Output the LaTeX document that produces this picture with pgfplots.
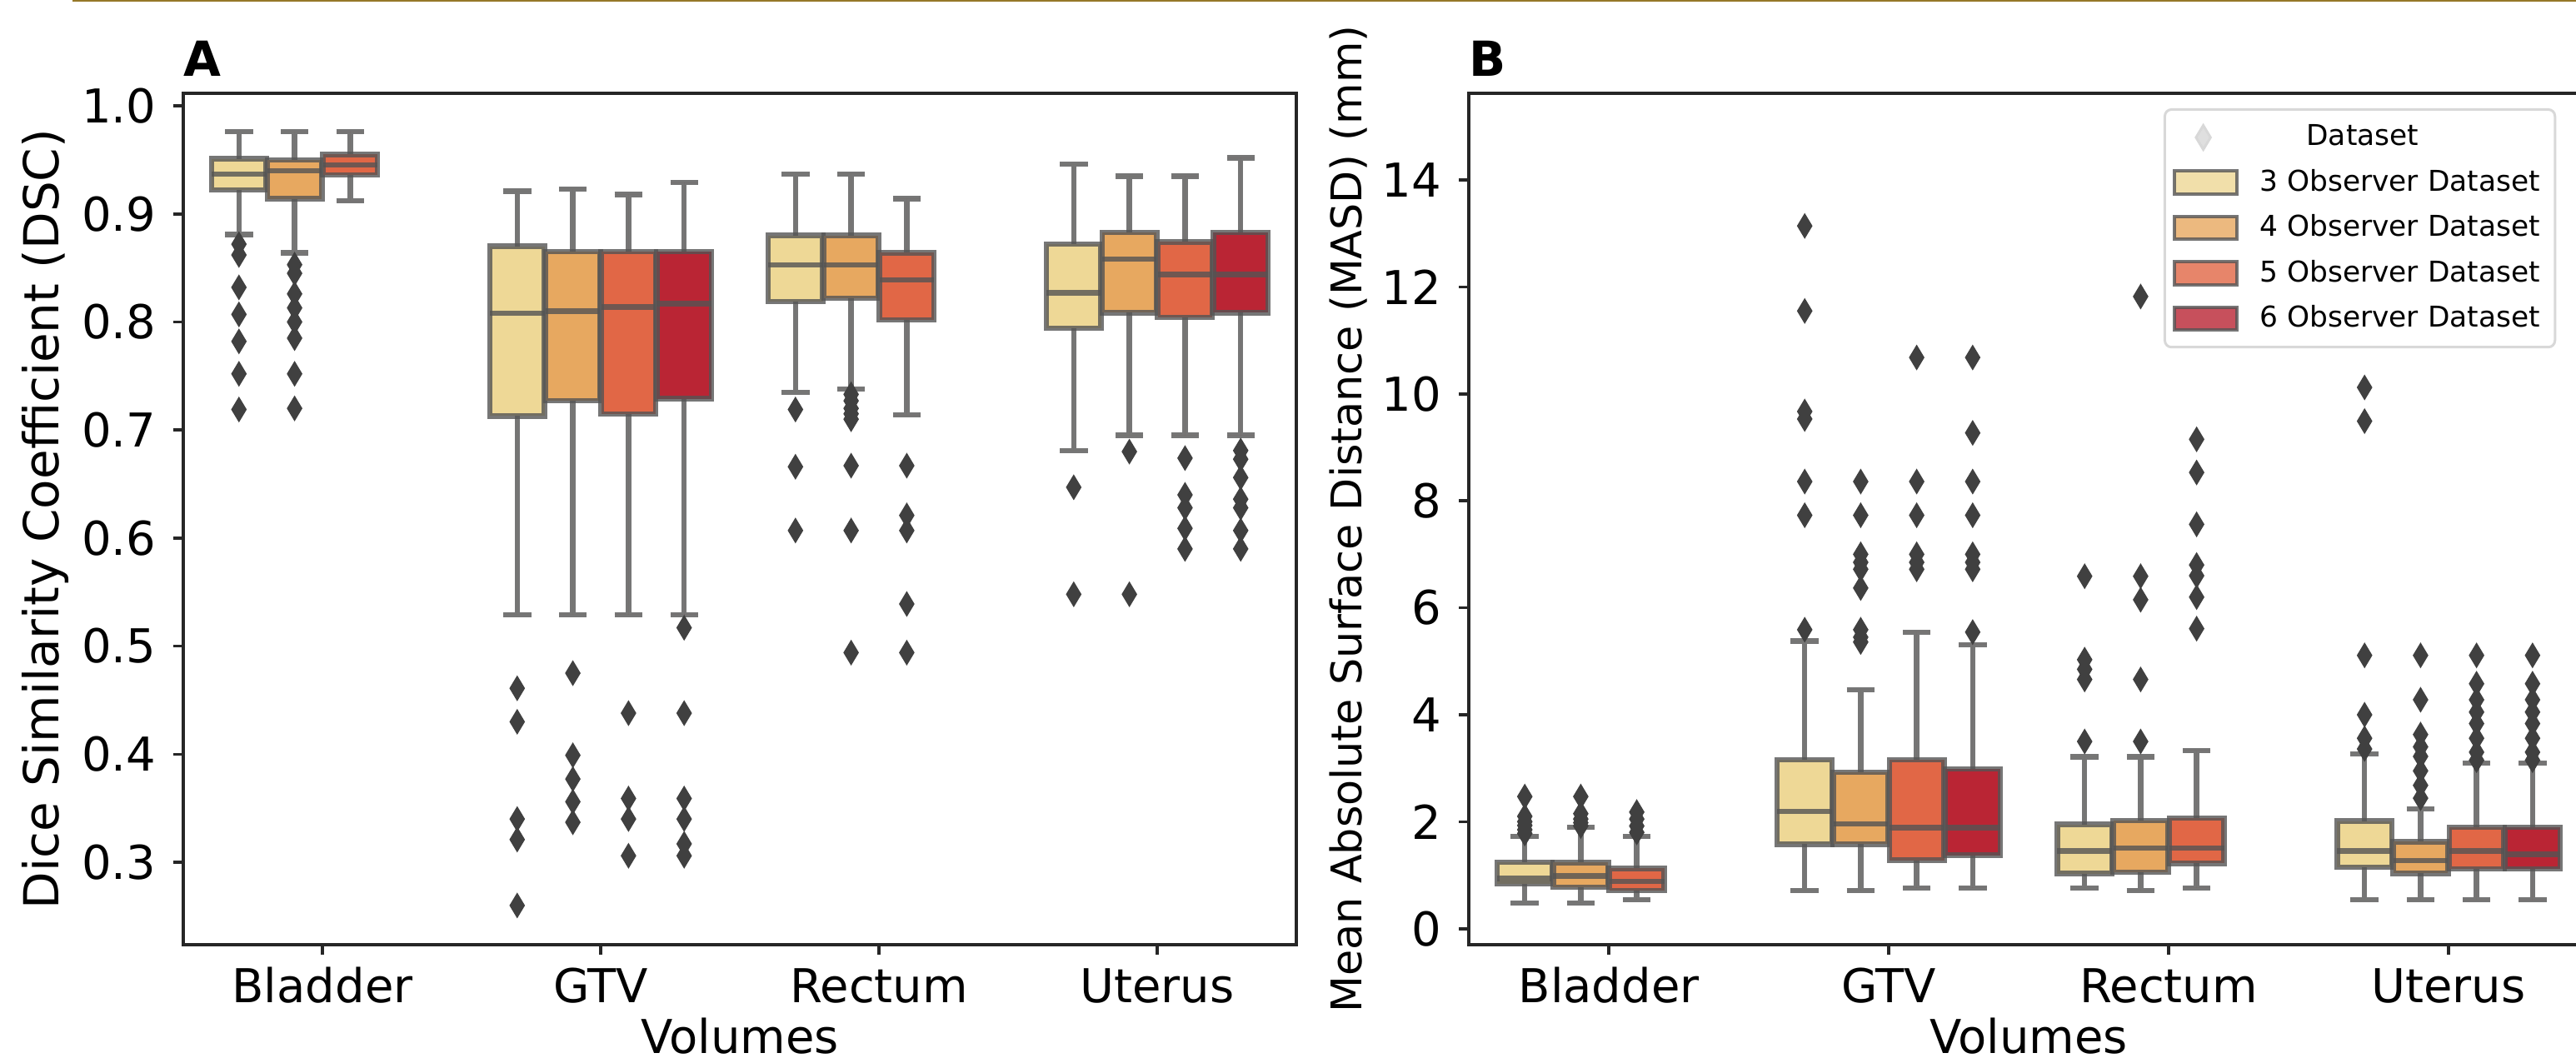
\documentclass[border=0pt]{standalone}
\usepackage{fontspec}
\setmainfont{DejaVu Sans}
\usepackage{pgfplots}
\pgfplotsset{compat=1.18}
\usepgfplotslibrary{statistics}

\definecolor{c3}{RGB}{238,216,150}
\definecolor{c4}{RGB}{231,168,96}
\definecolor{c5}{RGB}{225,103,70}
\definecolor{c6}{RGB}{186,37,52}
\definecolor{lineg}{RGB}{84,84,84}
\definecolor{flier}{RGB}{64,64,64}
\definecolor{spine}{RGB}{38,38,38}
\definecolor{legg}{RGB}{216,216,216}
\definecolor{topline}{RGB}{150,120,40}

\newcommand{\tk}{\fontsize{14}{16}\selectfont}

% one box: position, colour, lower whisker, Q1, median, Q3, upper whisker, outliers
\newcommand{\bx}[8]{%
  \addplot[bxstyle, fill=#2, boxplot prepared={draw position=#1,
    lower whisker=#3, lower quartile=#4, median=#5,
    upper quartile=#6, upper whisker=#7}]
    table[row sep=\\, y index=0] {v\\ #8};
}

\pgfplotsset{
  bxstyle/.style={draw=lineg, draw opacity=0.8, line width=1.6pt, solid,
    mark=diamond*, mark size=3.6pt,
    mark options={fill=flier, draw=flier, draw opacity=1, line width=0.3pt, xscale=0.8},
    boxplot/box extend=0.196, boxplot/whisker extend=0.1, forget plot},
  patchleg/.style={legend image code/.code={%
    \draw[##1, sharp corners] (0pt,-3.4pt) rectangle (18.75pt,3.4pt);
    \path (23pt,0pt);}},
  common/.style={
    anchor=south west, scale only axis,
    boxplot/draw direction=y,
    xmin=-0.5, xmax=3.5,
    xtick={0,1,2,3}, xticklabels={Bladder,GTV,Rectum,Uterus},
    tick pos=left, tick align=outside, major tick length=3pt,
    tick style={draw=spine, line width=0.9pt},
    axis line style={draw=spine, line width=0.9pt},
    tick label style={font=\tk},
    /pgf/number format/assume math mode=true,
    xticklabel style={anchor=base, inner sep=0pt, yshift=-14.25pt},
    yticklabel style={anchor=east, inner sep=0pt, xshift=-5pt},
    xlabel={Volumes},
    every axis x label/.style={at={(axis description cs:0.5,0)}, anchor=base, inner sep=0pt,
      yshift=-32.5pt, font=\tk},
    every axis title/.style={at={(axis description cs:0,1)}, anchor=base west, inner sep=0pt, yshift=5pt,
      font=\bfseries\fontsize{14.5}{17}\selectfont},
  },
}

\begin{document}
\begin{tikzpicture}[x=1pt,y=1pt]
\useasboundingbox (0,0) rectangle (773,318.75);
\draw[topline, line width=0.6pt] (21.75,318.45) -- (773,318.45);

% ---------- A: DSC ----------
\begin{axis}[common, at={(55pt,35.25pt)}, width=334pt, height=255.5pt,
  ymin=0.2237, ymax=1.0116,
  ytick={0.3,0.4,0.5,0.6,0.7,0.8,0.9,1.0},
  yticklabel style={/pgf/number format/.cd, fixed, fixed zerofill, precision=1},
  ylabel={Dice Similarity Coefficient (DSC)},
  every axis y label/.style={at={(axis description cs:0,0.5)}, rotate=90, anchor=base,
    yshift=37.25pt, font=\fontsize{14.5}{17}\selectfont},
  title={A}]
\bx{-0.3}{c3}{0.881}{0.922}{0.937}{0.951}{0.976}{0.872\\ 0.862\\ 0.832\\ 0.807\\ 0.782\\ 0.752\\ 0.719\\}
\bx{-0.1}{c4}{0.864}{0.914}{0.940}{0.950}{0.976}{0.853\\ 0.845\\ 0.826\\ 0.813\\ 0.800\\ 0.785\\ 0.752\\ 0.720\\}
\bx{0.1}{c5}{0.912}{0.936}{0.9455}{0.955}{0.976}{}
\bx{0.7}{c3}{0.529}{0.713}{0.808}{0.870}{0.921}{0.461\\ 0.430\\ 0.340\\ 0.321\\ 0.260\\}
\bx{0.9}{c4}{0.529}{0.727}{0.810}{0.865}{0.923}{0.475\\ 0.399\\ 0.377\\ 0.356\\ 0.337\\}
\bx{1.1}{c5}{0.529}{0.715}{0.814}{0.865}{0.918}{0.438\\ 0.359\\ 0.340\\ 0.306\\}
\bx{1.3}{c6}{0.529}{0.729}{0.817}{0.865}{0.929}{0.517\\ 0.438\\ 0.359\\ 0.340\\ 0.317\\ 0.306\\}
\bx{1.7}{c3}{0.735}{0.819}{0.853}{0.880}{0.937}{0.719\\ 0.666\\ 0.607\\}
\bx{1.9}{c4}{0.738}{0.822}{0.853}{0.880}{0.937}{0.733\\ 0.727\\ 0.720\\ 0.715\\ 0.710\\ 0.667\\ 0.607\\ 0.494\\}
\bx{2.1}{c5}{0.714}{0.802}{0.839}{0.864}{0.914}{0.667\\ 0.621\\ 0.607\\ 0.539\\ 0.494\\}
\bx{2.7}{c3}{0.681}{0.794}{0.827}{0.872}{0.946}{0.647\\ 0.548\\}
\bx{2.9}{c4}{0.695}{0.8085}{0.858}{0.883}{0.935}{0.680\\ 0.548\\}
\bx{3.1}{c5}{0.695}{0.804}{0.844}{0.874}{0.935}{0.674\\ 0.640\\ 0.628\\ 0.609\\ 0.590\\}
\bx{3.3}{c6}{0.695}{0.8085}{0.844}{0.883}{0.952}{0.681\\ 0.673\\ 0.656\\ 0.636\\ 0.628\\ 0.607\\ 0.590\\}
\end{axis}

% ---------- B: MASD ----------
\begin{axis}[common, at={(440.75pt,35.25pt)}, width=336pt, height=255.5pt,
  ymin=-0.3, ymax=15.62,
  ytick={0,2,4,6,8,10,12,14},
  ylabel={Mean Absolute Surface Distance (MASD) (mm)},
  every axis y label/.style={at={(axis description cs:0,0.5)}, rotate=90, anchor=base,
    yshift=32.25pt, font=\fontsize{12.7}{15}\selectfont},
  title={B},
  legend style={at={(0.6205,0.9824)}, anchor=north west, draw=legg, line width=0.75pt,
    rounded corners=2pt, fill=white, fill opacity=0.8, text opacity=1,
    font=\fontsize{8.6}{10}\selectfont, row sep=1.6pt, inner sep=2.5pt,
    cells={anchor=west}}]
\bx{-0.3}{c3}{0.483}{0.84}{0.94}{1.24}{1.724}{2.47\\ 2.10\\ 2.00\\ 1.93\\ 1.85\\ 1.78\\}
\bx{-0.1}{c4}{0.483}{0.779}{0.986}{1.235}{1.895}{2.47\\ 2.15\\ 2.05\\ 1.98\\ 1.92\\}
\bx{0.1}{c5}{0.545}{0.716}{0.883}{1.126}{1.724}{2.18\\ 2.05\\ 1.92\\ 1.80\\}
\bx{0.7}{c3}{0.716}{1.579}{2.188}{3.154}{5.377}{13.14\\ 11.55\\ 9.67\\ 9.53\\ 8.36\\ 7.73\\ 5.59\\}
\bx{0.9}{c4}{0.716}{1.579}{1.955}{2.92}{4.467}{8.36\\ 7.73\\ 7.00\\ 6.85\\ 6.72\\ 6.37\\ 5.59\\ 5.45\\ 5.36\\}
\bx{1.1}{c5}{0.763}{1.279}{1.89}{3.154}{5.545}{10.68\\ 8.36\\ 7.73\\ 7.00\\ 6.85\\ 6.72\\}
\bx{1.3}{c6}{0.763}{1.372}{1.89}{2.986}{5.31}{10.68\\ 9.27\\ 8.36\\ 7.73\\ 7.00\\ 6.85\\ 6.72\\ 5.545\\}
\bx{1.7}{c3}{0.763}{1.03}{1.452}{1.949}{3.21}{6.59\\ 5.03\\ 4.85\\ 4.66\\ 3.50\\}
\bx{1.9}{c4}{0.716}{1.055}{1.51}{2.023}{3.21}{11.82\\ 6.59\\ 6.15\\ 4.66\\ 3.50\\}
\bx{2.1}{c5}{0.763}{1.22}{1.51}{2.065}{3.33}{9.15\\ 8.53\\ 7.56\\ 6.80\\ 6.60\\ 6.20\\ 5.61\\}
\bx{2.7}{c3}{0.537}{1.15}{1.455}{2.012}{3.27}{10.12\\ 9.49\\ 5.11\\ 4.00\\ 3.56\\ 3.36\\}
\bx{2.9}{c4}{0.537}{1.034}{1.273}{1.626}{2.237}{5.11\\ 4.28\\ 3.63\\ 3.40\\ 3.22\\ 2.95\\ 2.68\\ 2.44\\}
\bx{3.1}{c5}{0.537}{1.115}{1.455}{1.897}{3.10}{5.11\\ 4.58\\ 4.28\\ 4.05\\ 3.835\\ 3.56\\ 3.30\\ 3.15\\}
\bx{3.3}{c6}{0.537}{1.115}{1.388}{1.897}{3.10}{5.11\\ 4.58\\ 4.28\\ 4.05\\ 3.835\\ 3.56\\ 3.30\\ 3.15\\}
\addlegendimage{only marks, mark=diamond*, mark size=3.6pt, mark options={xscale=0.8, fill=legg, draw=legg}}
\addlegendentry{\hspace*{14pt}Dataset}
\addlegendimage{patchleg, fill=c3, draw=lineg, draw opacity=0.8, line width=1pt}
\addlegendentry{3 Observer Dataset}
\addlegendimage{patchleg, fill=c4, draw=lineg, draw opacity=0.8, line width=1pt}
\addlegendentry{4 Observer Dataset}
\addlegendimage{patchleg, fill=c5, draw=lineg, draw opacity=0.8, line width=1pt}
\addlegendentry{5 Observer Dataset}
\addlegendimage{patchleg, fill=c6, draw=lineg, draw opacity=0.8, line width=1pt}
\addlegendentry{6 Observer Dataset}
\end{axis}
\end{tikzpicture}
\end{document}
